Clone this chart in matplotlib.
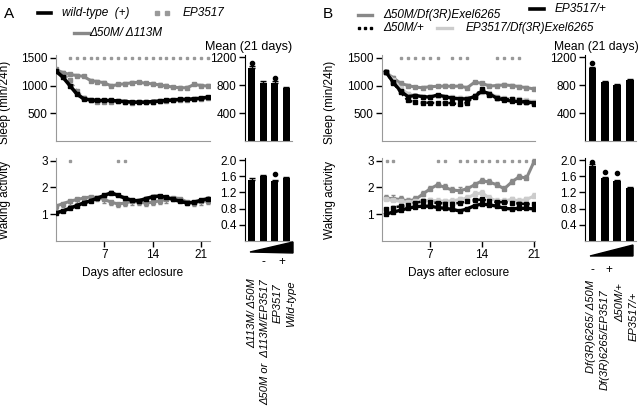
import numpy as np
import matplotlib.pyplot as plt
from matplotlib.patches import Polygon

plt.rcParams['font.family'] = ['Liberation Sans', 'DejaVu Sans']
plt.rcParams['font.size'] = 8.5

# ---- panel A data (days 0..22) ----
days_a = np.arange(0, 23)
wt_sleep = [1260, 1150, 1000, 850, 760, 740, 730, 730, 730, 720, 710, 700,
            700, 700, 710, 720, 730, 740, 750, 750, 760, 770, 790]
ep_sleep = [1270, 1210, 1100, 900, 780, 730, 710, 700, 705, 720, 700, 690,
            695, 700, 700, 715, 720, 735, 740, 745, 750, 760, 770]
d50_sleep = [1290, 1230, 1200, 1180, 1165, 1090, 1070, 1050, 990, 1020, 1030, 1050,
             1060, 1040, 1030, 1010, 990, 970, 960, 960, 1020, 1000, 990]
wt_wake = [1.05, 1.12, 1.22, 1.32, 1.42, 1.5, 1.6, 1.7, 1.8, 1.7, 1.6, 1.52,
           1.5, 1.58, 1.65, 1.68, 1.63, 1.55, 1.48, 1.42, 1.45, 1.52, 1.58]
d50_wake = [1.3, 1.4, 1.48, 1.55, 1.6, 1.65, 1.62, 1.55, 1.45, 1.38, 1.42, 1.48,
            1.45, 1.42, 1.45, 1.5, 1.55, 1.62, 1.58, 1.45, 1.42, 1.48, 1.5]
sig_a_sleep = np.arange(2, 23)
sig_a_wake = [2, 9, 10]

bar_a_sleep = [1040, 830, 830, 760]
bar_a_sleep_err = [30, 25, 25, 10]
bar_a_wake = [1.5, 1.6, 1.47, 1.55]
bar_a_wake_err = [0.05, 0.04, 0.04, 0.02]
dots_a_sleep = {0: 1110, 2: 900}
dots_a_wake = {2: 1.66}
labels_a = ['\u0394113M/ \u039450M', '\u039450M or  \u0394113M/EP3517', 'EP3517', 'Wild-type']

# ---- panel B data (days 1..21) ----
days_b = np.arange(1, 22)
df50_sleep = [1240, 1140, 1040, 1000, 970, 960, 980, 985, 990, 985, 990, 960,
              1060, 1040, 990, 1000, 1010, 1000, 980, 960, 940]
epp_sleep = [1250, 1060, 900, 800, 820, 800, 790, 830, 800, 770, 760, 760,
             800, 900, 850, 770, 740, 720, 710, 700, 690]
d50p_sleep = [1250, 1050, 880, 730, 700, 690, 690, 680, 690, 680, 660, 690,
              820, 930, 830, 780, 760, 750, 740, 700, 660]
epdf_sleep = [1250, 1100, 950, 850, 820, 800, 800, 820, 800, 790, 780, 770,
              800, 880, 860, 800, 770, 760, 750, 730, 710]
df50_wake = [1.6, 1.58, 1.55, 1.5, 1.55, 1.75, 1.95, 2.1, 2.0, 1.9, 1.88, 1.95,
             2.1, 2.25, 2.2, 2.1, 1.95, 2.2, 2.4, 2.35, 2.95]
epdf_wake = [1.55, 1.52, 1.48, 1.45, 1.48, 1.5, 1.52, 1.5, 1.48, 1.5, 1.55, 1.6,
             1.75, 1.8, 1.6, 1.5, 1.5, 1.55, 1.5, 1.55, 1.68]
d50p_wake = [1.2, 1.25, 1.3, 1.35, 1.42, 1.48, 1.45, 1.42, 1.4, 1.4, 1.42, 1.48,
             1.52, 1.55, 1.5, 1.45, 1.45, 1.42, 1.4, 1.38, 1.38]
epp_wake = [1.0, 1.08, 1.15, 1.22, 1.28, 1.3, 1.3, 1.25, 1.22, 1.18, 1.12, 1.2,
            1.32, 1.38, 1.35, 1.3, 1.22, 1.2, 1.22, 1.22, 1.2]
sig_b_sleep = [3, 4, 5, 6, 7, 8, 10, 11, 12, 16, 17, 18, 19]
sig_b_wake = [1.2, 2, 8, 9, 11, 12, 13, 14, 15, 16, 17, 18, 19, 20]

bar_b_sleep = [1040, 840, 800, 870]
bar_b_sleep_err = [25, 25, 10, 20]
bar_b_wake = [1.85, 1.55, 1.47, 1.3]
bar_b_wake_err = [0.05, 0.03, 0.03, 0.03]
dots_b_sleep = {0: 1110}
dots_b_wake = {0: 1.95, 1: 1.7, 2: 1.68}
labels_b = ['Df(3R)6265/ \u039450M', 'Df(3R)6265/EP3517', '\u039450M/+', 'EP3517/+']

GRAY = '#888888'
LGRAY = '#cccccc'
SIG = '#999999'

W, H = 640, 415
fig = plt.figure(figsize=(6.4, 4.15), dpi=100)


def box(l, t, r, b):
    return [l / W, 1 - b / H, (r - l) / W, (b - t) / H]


def line_style(ax, xlim, ylim, yticks, xticks):
    for s in ['top', 'right']:
        ax.spines[s].set_visible(False)
    ax.spines['left'].set_color('#999999')
    ax.spines['bottom'].set_color('#999999')
    ax.set_xlim(*xlim)
    ax.set_ylim(*ylim)
    ax.set_yticks(yticks)
    ax.set_xticks(xticks)
    ax.tick_params(direction='out', length=4, width=1, labelsize=8.5, pad=2)
    ax.patch.set_alpha(0)


def bar_style(ax, ylim, yticks):
    for s in ['top', 'right']:
        ax.spines[s].set_visible(False)
    ax.spines['bottom'].set_color('#999999')
    ax.set_xlim(-0.6, 3.5)
    ax.set_ylim(*ylim)
    ax.set_yticks(yticks)
    ax.set_xticks([])
    ax.tick_params(direction='out', length=4, width=1, labelsize=8.5, pad=2)
    ax.patch.set_alpha(0)


def bars(ax, vals, errs, dots):
    x = np.arange(len(vals))
    ax.bar(x, vals, width=0.62, color='black')
    ax.errorbar(x, vals, yerr=[np.zeros(len(errs)), errs], fmt='none',
                ecolor='black', elinewidth=1, capsize=2)
    for i, v in dots.items():
        ax.plot(i, v, 'o', color='black', ms=3)


def series(ax, x, y, color, lw, err, dotted=False, z=2):
    # positive err -> bar upward, negative -> bar downward
    ls = (0, (1, 1.2)) if dotted else '-'
    zero = np.zeros(len(y))
    full = np.full(len(y), abs(err))
    yerr = [zero, full] if err > 0 else [full, zero]
    ax.errorbar(x, y, yerr=yerr, fmt='none',
                ecolor=color, elinewidth=1, capsize=1.5, zorder=z)
    ax.plot(x, y, color=color, lw=lw, ls=ls, marker='s', ms=2.5, zorder=z + 0.5)


# ---- A sleep ----
ax = fig.add_axes(box(56, 55, 210, 141))
line_style(ax, (0, 22.3), (0, 1550), [500, 1000, 1500], [])
series(ax, days_a, d50_sleep, GRAY, 2.2, 30)
series(ax, days_a, ep_sleep, GRAY, 1.8, 25, dotted=True)
series(ax, days_a, wt_sleep, 'black', 2.6, 20, z=3)
ax.plot(sig_a_sleep, np.full(len(sig_a_sleep), 1500), 's', color=SIG, ms=1.6)
ax.set_ylabel('Sleep (min/24h)', fontsize=8.5, labelpad=2)
ax.yaxis.set_label_coords(-0.29, 0.45)

# ---- A wake ----
ax = fig.add_axes(box(56, 158, 210, 241))
line_style(ax, (0, 22.3), (0, 3.1), [1, 2, 3], [7, 14, 21])
series(ax, days_a, d50_wake, GRAY, 2.2, -0.12)
series(ax, days_a, wt_wake, 'black', 2.6, 0.05, z=3)
ax.plot(sig_a_wake, np.full(len(sig_a_wake), 3), 's', color=SIG, ms=1.6)
ax.set_ylabel('Waking activity', fontsize=8.5)
ax.yaxis.set_label_coords(-0.29, 0.5)
ax.set_xlabel('Days after eclosure', fontsize=8.5, labelpad=4)

# ---- A bars ----
ax = fig.add_axes(box(245, 55, 292, 141))
bar_style(ax, (0, 1230), [400, 800, 1200])
bars(ax, bar_a_sleep, bar_a_sleep_err, dots_a_sleep)
ax = fig.add_axes(box(245, 158, 292, 241))
bar_style(ax, (0, 2.05), [0.4, 0.8, 1.2, 1.6, 2.0])
ax.yaxis.set_major_formatter(plt.FormatStrFormatter('%.1f'))
bars(ax, bar_a_wake, bar_a_wake_err, dots_a_wake)

# ---- B sleep ----
ax = fig.add_axes(box(382, 55, 535, 141))
line_style(ax, (0.5, 21.15), (0, 1550), [500, 1000, 1500], [])
series(ax, days_b, df50_sleep, GRAY, 2.2, 30)
series(ax, days_b, epdf_sleep, LGRAY, 2.2, 25)
series(ax, days_b, d50p_sleep, 'black', 1.8, 20, dotted=True, z=3)
series(ax, days_b, epp_sleep, 'black', 2.4, 20, z=4)
ax.plot(sig_b_sleep, np.full(len(sig_b_sleep), 1500), 's', color=SIG, ms=1.6)
ax.set_ylabel('Sleep (min/24h)', fontsize=8.5)
ax.yaxis.set_label_coords(-0.3, 0.45)

# ---- B wake ----
ax = fig.add_axes(box(382, 158, 535, 241))
line_style(ax, (0.5, 21.15), (0, 3.1), [1, 2, 3], [7, 14, 21])
series(ax, days_b, df50_wake, GRAY, 2.2, 0.12)
series(ax, days_b, epdf_wake, LGRAY, 2.2, 0.1)
series(ax, days_b, d50p_wake, 'black', 1.8, 0.04, dotted=True, z=3)
series(ax, days_b, epp_wake, 'black', 2.4, -0.04, z=4)
ax.plot(sig_b_wake, np.full(len(sig_b_wake), 3), 's', color=SIG, ms=1.6)
ax.set_ylabel('Waking activity', fontsize=8.5)
ax.yaxis.set_label_coords(-0.3, 0.5)
ax.set_xlabel('Days after eclosure', fontsize=8.5, labelpad=4)

# ---- B bars ----
ax = fig.add_axes(box(585, 55, 636, 141))
bar_style(ax, (0, 1230), [400, 800, 1200])
bars(ax, bar_b_sleep, bar_b_sleep_err, dots_b_sleep)
ax = fig.add_axes(box(585, 158, 636, 241))
bar_style(ax, (0, 2.05), [0.4, 0.8, 1.2, 1.6, 2.0])
ax.yaxis.set_major_formatter(plt.FormatStrFormatter('%.1f'))
bars(ax, bar_b_wake, bar_b_wake_err, dots_b_wake)

# ---- overlay: panel letters, legends, wedges, genotype labels ----
ov = fig.add_axes([0, 0, 1, 1])
ov.set_xlim(0, W)
ov.set_ylim(H, 0)
ov.axis('off')

ov.text(4, 14, 'A', fontsize=11, va='center')
ov.text(323, 14, 'B', fontsize=11, va='center')

ov.plot([38, 51], [13, 13], color='black', lw=2.6)
ov.text(62, 13, 'wild-type  (+)', style='italic', va='center')
ov.plot([157, 167], [13, 13], 's', color=SIG, ms=2.2)
ov.text(183, 13, 'EP3517', style='italic', va='center')
ov.plot([74, 89], [33, 33], color=GRAY, lw=2.4)
ov.text(89, 33, '\u039450M/ \u0394113M', style='italic', va='center')

ov.plot([358, 372], [15, 15], color=GRAY, lw=2.4)
ov.text(383, 15, '\u039450M/Df(3R)Exel6265', style='italic', va='center')
ov.plot([530, 544], [9, 9], color='black', lw=2.6)
ov.text(555, 9, 'EP3517/+', style='italic', va='center')
ov.plot([359, 365, 371], [28, 28, 28], 's', color='black', ms=2)
ov.text(383, 28, '\u039450M/+', style='italic', va='center')
ov.plot([437, 452], [28, 28], color=LGRAY, lw=2.4)
ov.text(466, 28, 'EP3517/Df(3R)Exel6265', style='italic', va='center')

ov.text(249, 47, 'Mean (21 days)', fontsize=9, ha='center', va='center')
ov.text(596, 47, 'Mean (21 days)', fontsize=8.7, ha='center', va='center')

ov.add_patch(Polygon([(250, 252), (293, 242), (293, 253)], closed=True, color='black'))
ov.add_patch(Polygon([(590, 256), (633, 245), (633, 256)], closed=True, color='black'))
ov.text(263, 262, '-', ha='center', va='center')
ov.text(282, 262, '+', ha='center', va='center')
ov.text(592, 270, '-', ha='center', va='center')
ov.text(609, 270, '+', ha='center', va='center')

for x, t, lab in zip([252, 265, 278, 291], [278, 279, 283, 280], labels_a):
    ov.text(x, t, lab, rotation=90, style='italic', fontsize=8,
            ha='center', va='top')
for x, t, lab in zip([591, 605, 620, 634], [280, 289, 283, 292], labels_b):
    ov.text(x, t, lab, rotation=90, style='italic', fontsize=8,
            ha='center', va='top')

fig.savefig('out.png', dpi=100)
